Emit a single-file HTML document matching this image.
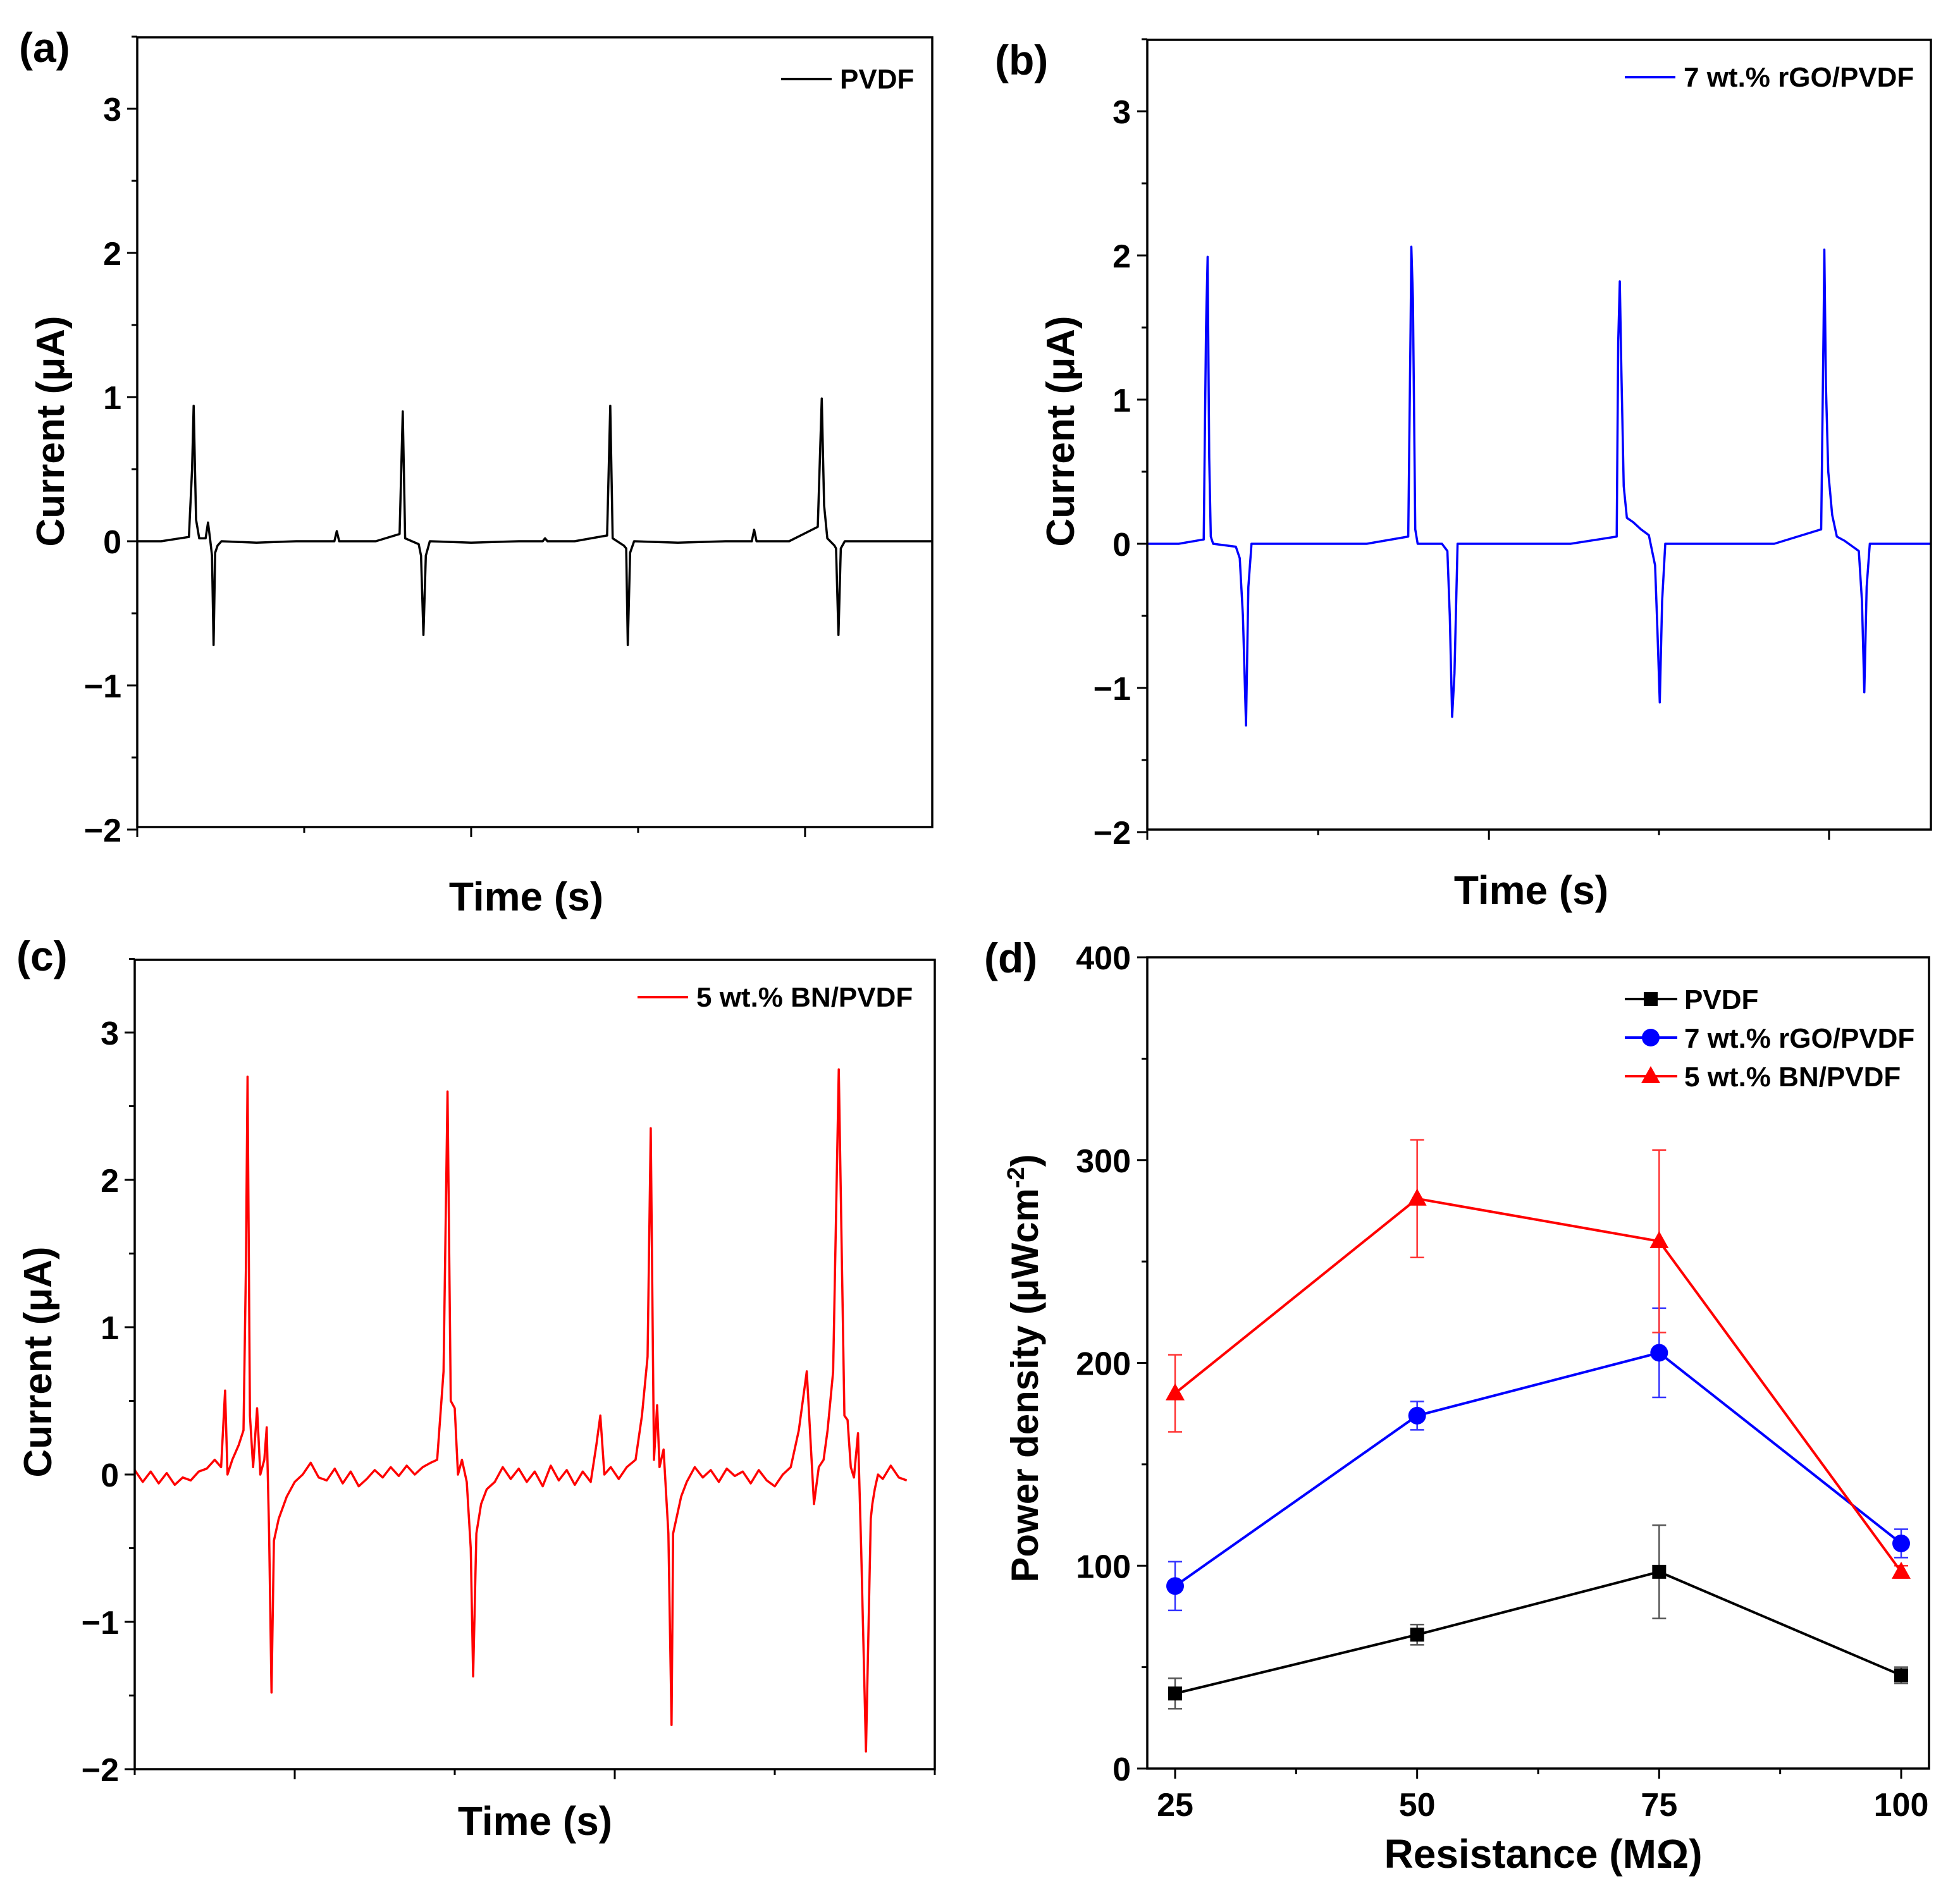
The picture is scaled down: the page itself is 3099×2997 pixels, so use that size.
<!DOCTYPE html>
<html><head><meta charset="utf-8">
<style>
html,body{margin:0;padding:0;background:#fff;}
svg{display:block;}
text{font-family:"Liberation Sans",Arial,sans-serif;font-weight:bold;fill:#000;}
</style></head>
<body>
<svg id="fig" width="3099" height="2997" viewBox="0 0 3099 2997" xmlns="http://www.w3.org/2000/svg">
<rect x="0" y="0" width="3099" height="2997" fill="#fff"/>
</svg>
<script>
// ---- Panel (a) PVDF current trace ----
const timeA = [0,3,6.5,6.9,7.1,7.4,7.8,8.6,8.9,9.2,9.4,9.6,9.8,10.1,10.6,15,20,24.8,25.1,25.4,30,33.0,33.4,33.7,35.4,35.7,36.0,36.3,36.8,42,48,51.0,51.3,51.6,55,59.1,59.5,59.8,61.2,61.5,61.7,62.0,62.5,68,74,77.3,77.6,77.9,82,85.6,86.1,86.4,86.8,87.7,87.9,88.2,88.5,89.0,94,100];
const currA = [0,0,0.03,0.5,0.94,0.15,0.02,0.02,0.13,0.0,-0.1,-0.72,-0.08,-0.03,0,-0.01,0,0,0.07,0,0,0.05,0.9,0.02,-0.02,-0.1,-0.65,-0.1,0,-0.01,0,0,0.02,0,0,0.04,0.94,0.02,-0.03,-0.05,-0.72,-0.08,0,-0.01,0,0,0.08,0,0,0.1,0.99,0.25,0.02,-0.03,-0.05,-0.65,-0.05,0,0,0];
// ---- Panel (b) rGO/PVDF current trace ----
const timeB = [0,4,7.2,7.5,7.7,7.9,8.1,8.4,11.3,11.8,12.2,12.6,12.9,13.3,20,28,33.3,33.6,33.7,33.9,34.2,34.5,37.6,38.3,38.6,38.9,39.2,39.6,46,54,59.9,60.1,60.3,60.5,60.8,61.2,62.0,63.0,64.0,64.8,65.1,65.4,65.7,66.1,72,80,86.0,86.3,86.4,86.6,86.9,87.4,88.0,89.0,90.8,91.2,91.5,91.8,92.2,96,100];
const currB = [0,0,0.03,1.5,1.99,0.6,0.05,0,-0.02,-0.1,-0.5,-1.26,-0.3,0,0,0,0.05,1.5,2.06,1.7,0.1,0,0,-0.05,-0.5,-1.2,-0.9,0,0,0,0.05,1.4,1.82,1.2,0.4,0.18,0.15,0.1,0.06,-0.15,-0.6,-1.1,-0.4,0,0,0,0.1,1.5,2.04,1.1,0.5,0.2,0.05,0.02,-0.05,-0.4,-1.03,-0.3,0,0,0];
// ---- Panel (c) BN/PVDF current trace ----
const timeC = [0,1,2,3,4,5,6,7,8,9,10,10.8,11.3,11.6,12.2,13.0,13.6,13.9,14.1,14.4,14.8,15.3,15.7,16.2,16.5,16.8,17.1,17.4,18.0,19,20,21,22,23,24,25,26,27,28,29,30,31,32,33,34,35,36,37,37.8,38.6,39.1,39.5,40.0,40.4,40.9,41.5,42.0,42.3,42.7,43.3,44,45,46,47,48,49,50,51,52,53,54,55,56,57,57.7,58.2,58.7,59.5,60.5,61.5,62.6,63.4,64.1,64.5,64.9,65.3,65.6,66.1,66.7,67.1,67.3,67.7,68.3,69,70,71,72,73,74,75,76,77,78,79,80,81,82,83,84,84.9,85.5,86.1,86.6,87.3,88.0,88.7,89.1,89.5,89.9,90.4,90.8,91.4,92.0,92.2,92.5,92.9,93.5,94.5,95.5,96.5,97.5,98.5,100];
const currC = [0.03,-0.05,0.02,-0.06,0.01,-0.07,-0.02,-0.04,0.02,0.04,0.1,0.05,0.57,0.0,0.1,0.2,0.3,1.4,2.7,0.4,0.05,0.45,0.0,0.1,0.32,-0.4,-1.48,-0.45,-0.3,-0.15,-0.05,0.0,0.08,-0.02,-0.04,0.04,-0.06,0.02,-0.08,-0.03,0.03,-0.02,0.05,-0.01,0.06,0.0,0.05,0.08,0.1,0.7,2.6,0.5,0.45,0.0,0.1,-0.05,-0.5,-1.37,-0.4,-0.2,-0.1,-0.05,0.05,-0.03,0.04,-0.05,0.02,-0.08,0.06,-0.04,0.03,-0.07,0.02,-0.05,0.2,0.4,0.0,0.05,-0.03,0.05,0.1,0.4,0.8,2.35,0.1,0.47,0.05,0.17,-0.4,-1.7,-0.4,-0.3,-0.15,-0.05,0.05,-0.02,0.03,-0.05,0.04,-0.01,0.02,-0.06,0.03,-0.04,-0.08,0.0,0.05,0.3,0.7,-0.2,0.05,0.1,0.3,0.7,2.75,0.4,0.37,0.05,-0.02,0.28,-0.5,-1.88,-0.3,-0.2,-0.1,0.0,-0.03,0.06,-0.02,-0.04];
// ---- Panel (d) power density ----
const resist = [25,50,75,100];
const pvdfP = [37,66,97,46];
const pvdfE = [7.5,5,23,4];
const rgoP = [90,174,205,111];
const rgoE = [12,7,22,7];
const bnP = [185,281,260,97];
const bnE = [19,29,45,3];
const yTicksI = [-2,-1,0,1,2,3];
const yTicksP = [0,100,200,300,400];

const NS='http://www.w3.org/2000/svg';
const svg=document.getElementById('fig');
function el(tag,attrs,parent){const e=document.createElementNS(NS,tag);for(const k in attrs)e.setAttribute(k,attrs[k]);(parent||svg).appendChild(e);return e;}
function txt(x,y,s,size,anchor,fill,parent){const t=el('text',{x:x,y:y,'font-size':size,'text-anchor':anchor||'start',fill:fill||'#000'},parent);t.textContent=s;return t;}

function currentPanel(cfg){
  const g=el('g',{});
  
  
  const L=cfg.left,R=cfg.right,T=cfg.top,B=cfg.bottom;
  const ys=v=>cfg.zeroY - v*cfg.unit;
  const xs=t=>L+(R-L)*t/100;
  for(let v=-2;v<=3.5;v+=0.5){
    const tk=el('line',{x1:L-(Number.isInteger(v)?16:9),x2:L,y1:ys(v),y2:ys(v),stroke:'#000','stroke-width':3},g);
    
    
  }
  yTicksI.forEach(v=>{
    const t=txt(cfg.labelRight,ys(v)+19,(v<0?'\u2212':'')+Math.abs(v),52,'end','#000',g);
    
    
  });
  cfg.xticks.forEach((p,i)=>{
    const x=L+(R-L)*p;
    const tk=el('line',{x1:x,x2:x,y1:B,y2:B+(cfg.majors.includes(i)?16:9),stroke:'#000','stroke-width':3},g);
    
    
  });
  const pts=cfg.t.map((t,i)=>xs(t).toFixed(1)+','+ys(cfg.v[i]).toFixed(1)).join(' ');
  const line=el('polyline',{points:pts,fill:'none',stroke:cfg.color,'stroke-width':3.5,'stroke-linejoin':'round'},g);
  
  
  const fr=el('rect',{x:L,y:T,width:R-L,height:B-T,fill:'none',stroke:'#000','stroke-width':3.5},g);
  
  
  const lg=el('line',{x1:cfg.legX,x2:cfg.legX+80,y1:cfg.legY,y2:cfg.legY,stroke:cfg.color,'stroke-width':4},g);
  
  
  const lt=txt(cfg.legX+93,cfg.legY+15,cfg.legend,44,'start',cfg.legendColor,g);
  
  
  const pl=txt(cfg.panelX,cfg.panelY,cfg.panel,66,'start','#000',g);
  
  
  const yt=txt(0,0,'Current (\u03bcA)',62,'middle','#000',g);
  yt.setAttribute('transform','translate('+(cfg.ytX+22)+','+cfg.ytY+') rotate(-90)');
  
  
  const xt=txt(cfg.xtX,cfg.xtY+23,'Time (s)',64,'middle','#000',g);
  
  
}

currentPanel({name:'panel-a',left:217,right:1474,top:59,bottom:1308,zeroY:856,unit:228,labelRight:192,
  xticks:[0,0.21,0.42,0.63,0.84],majors:[0,2,4],t:timeA,v:currA,color:'#000',legend:'PVDF',legendColor:'#000',
  legX:1235,legY:125,panelX:30,panelY:98,panel:'(a)',ytX:79,ytY:682,xtX:832,xtY:1417});
currentPanel({name:'panel-b',left:1814,right:3053,top:63,bottom:1312,zeroY:860,unit:228,labelRight:1788,
  xticks:[0,0.218,0.436,0.653,0.87],majors:[0,2,4],t:timeB,v:currB,color:'#0000ff',legend:'7 wt.% rGO/PVDF',legendColor:'#0000ff',
  legX:2569,legY:122,panelX:1573,panelY:118,panel:'(b)',ytX:1676,ytY:682,xtX:2421,xtY:1407});
currentPanel({name:'panel-c',left:213,right:1478,top:1518,bottom:2798,zeroY:2332,unit:233,labelRight:188,
  xticks:[0,0.2,0.4,0.6,0.8,1],majors:[1,3],t:timeC,v:currC,color:'#ff0000',legend:'5 wt.% BN/PVDF',legendColor:'#ff0000',
  legX:1008,legY:1577,panelX:26,panelY:1535,panel:'(c)',ytX:59,ytY:2154,xtX:846,xtY:2879});

// ---- Panel (d) ----
(function(){
  const g=el('g',{});
  
  
  const L=1814,R=3050,T=1514,B=2797;
  const xs=r=>1858+(r-25)*(3006-1858)/75;
  const ys=p=>B-(p/400)*(B-T);
  for(let v=0;v<=400;v+=50){
    const tk=el('line',{x1:L-(v%100===0?16:9),x2:L,y1:ys(v),y2:ys(v),stroke:'#000','stroke-width':3},g);
    
    
  }
  yTicksP.forEach(v=>{
    const t=txt(1788,ys(v)+19,String(v),52,'end','#000',g);
    
    
  });
  for(let r=25;r<=100;r+=12.5){
    const major=(r%25===0);
    const tk=el('line',{x1:xs(r),x2:xs(r),y1:B,y2:B+(major?16:9),stroke:'#000','stroke-width':3},g);
    
    
  }
  resist.forEach(r=>{
    const t=txt(xs(r),2872,String(r),52,'middle','#000',g);
    
    
  });
  const series=[
    {name:'pvdf',vals:pvdfP,err:pvdfE,color:'#000',errColor:'#555',marker:'square'},
    {name:'rgo',vals:rgoP,err:rgoE,color:'#0000ff',errColor:'#3333ff',marker:'circle'},
    {name:'bn',vals:bnP,err:bnE,color:'#ff0000',errColor:'#ff3333',marker:'triangle'}];
  function marker(kind,x,y,c,p){
    if(kind==='square')return el('rect',{x:x-11,y:y-11,width:22,height:22,fill:c},p);
    if(kind==='circle')return el('circle',{cx:x,cy:y,r:14,fill:c},p);
    return el('polygon',{points:(x)+','+(y-16)+' '+(x-15)+','+(y+11)+' '+(x+15)+','+(y+11),fill:c},p);
  }
  series.forEach(s=>{
    resist.forEach((r,i)=>{
      const x=xs(r),y1=ys(s.vals[i]-s.err[i]),y2=ys(s.vals[i]+s.err[i]);
      const eb=el('path',{d:'M'+x+','+y1+'V'+y2+'M'+(x-11)+','+y1+'H'+(x+11)+'M'+(x-11)+','+y2+'H'+(x+11),stroke:s.errColor,'stroke-width':2.5,fill:'none'},g);
      
      
    });
    const pts=resist.map((r,i)=>xs(r)+','+ys(s.vals[i])).join(' ');
    const ln=el('polyline',{points:pts,fill:'none',stroke:s.color,'stroke-width':4},g);
    
    
    resist.forEach((r,i)=>{
      const m=marker(s.marker,xs(r),ys(s.vals[i]),s.color,g);
      
      
    });
  });
  const fr=el('rect',{x:L,y:T,width:R-L,height:B-T,fill:'none',stroke:'#000','stroke-width':3.5},g);
  
  
  const labels=['PVDF','7 wt.% rGO/PVDF','5 wt.% BN/PVDF'];
  const legYs=[1580,1641,1702];
  series.forEach((s,i)=>{
    const ll=el('line',{x1:2569,x2:2652,y1:legYs[i],y2:legYs[i],stroke:s.color,'stroke-width':4},g);
    
    
    const m=marker(s.marker,2610,legYs[i],s.color,g);
    
    
    const t=txt(2663,legYs[i]+16,labels[i],44,'start','#000',g);
    
    
  });
  const pl=txt(1556,1538,'(d)',66,'start','#000',g);
  
  
  const yt=el('text',{'font-size':60,'text-anchor':'middle',transform:'translate(1641,2164) rotate(-90)'},g);
  yt.innerHTML='Power density (\u03bcWcm<tspan dy="-22" font-size="38">-2</tspan><tspan dy="22">)</tspan>';
  
  
  const xt=txt(2440,2954,'Resistance (M\u03a9)',64,'middle','#000',g);
  
  
})();
</script>
</body></html>
